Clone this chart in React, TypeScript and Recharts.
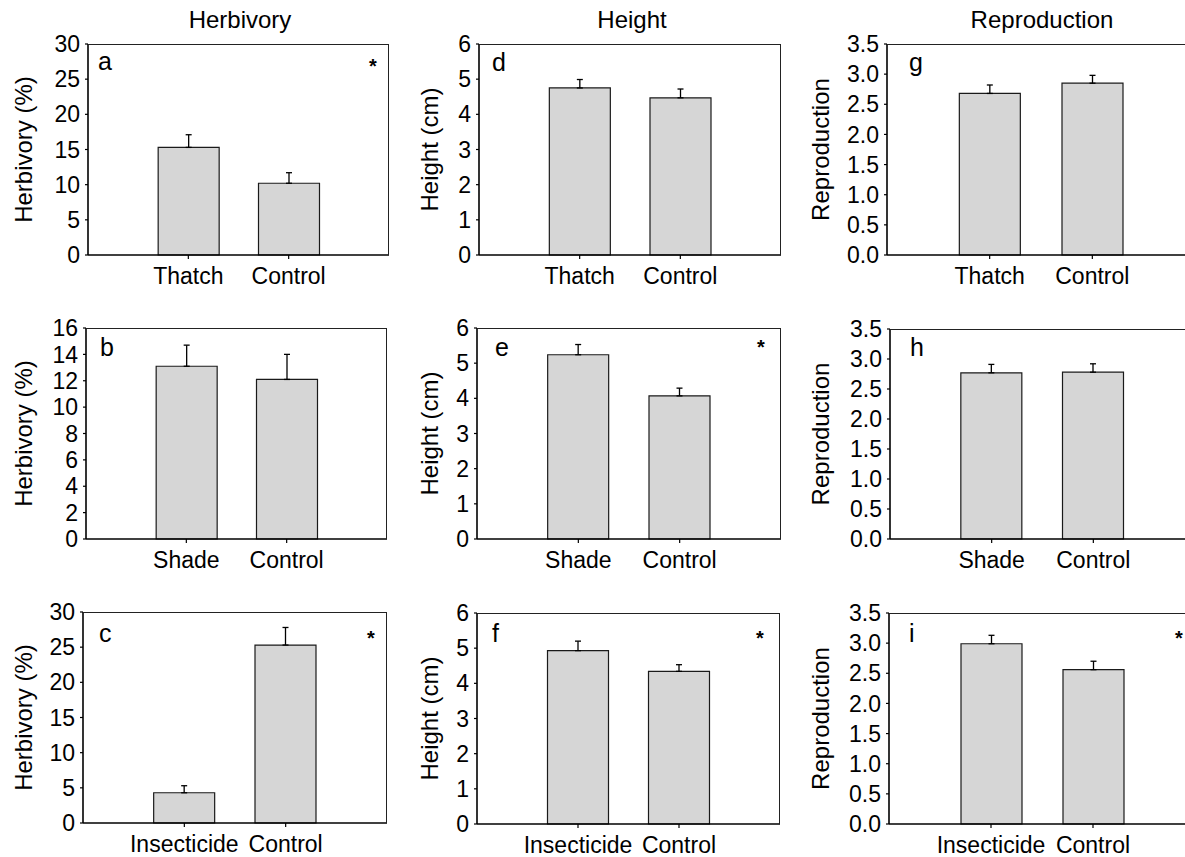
import { Bar, BarChart, ErrorBar, XAxis, YAxis } from "recharts";

// treatment groups
const thatchGroups = ["Thatch", "Control"];
const shadeGroups = ["Shade", "Control"];
const insectGroups = ["Insecticide", "Control"];

// means and standard errors
const herbThatch = [15.3, 10.2];
const herbThatchSe = [1.8, 1.5];
const herbShade = [13.1, 12.1];
const herbShadeSe = [1.6, 1.9];
const herbInsect = [4.3, 25.3];
const herbInsectSe = [1.0, 2.5];

const heightThatch = [4.75, 4.47];
const heightThatchSe = [0.24, 0.25];
const heightShade = [5.24, 4.07];
const heightShadeSe = [0.29, 0.22];
const heightInsect = [4.93, 4.34];
const heightInsectSe = [0.27, 0.19];

const reproThatch = [2.68, 2.85];
const reproThatchSe = [0.14, 0.13];
const reproShade = [2.77, 2.78];
const reproShadeSe = [0.14, 0.14];
const reproInsect = [2.99, 2.56];
const reproInsectSe = [0.14, 0.14];

// y tick labels
const herbTicks = [0, 5, 10, 15, 20, 25, 30];
const herbShadeTicks = [0, 2, 4, 6, 8, 10, 12, 14, 16];
const heightTicks = [0, 1, 2, 3, 4, 5, 6];
const reproTicks = [0, 0.5, 1, 1.5, 2, 2.5, 3, 3.5];

const titles = [
  { text: "Herbivory", x: 240 },
  { text: "Height", x: 632 },
  { text: "Reproduction", x: 1042 },
];

const FONT = '"Liberation Sans", Arial, Helvetica, sans-serif';

type PanelProps = {
  letter: string;
  groups: string[];
  values: number[];
  errors: number[];
  ticks: number[];
  decimals: number;
  yLabel: string;
  col: number; // left edge of the column on the page
  box: { l: number; r: number; t: number; b: number };
  labelX: number;
  letterX: number;
  letterBase: number;
  star?: { x: number; y: number };
};

const Panel = ({ letter, groups, values, errors, ticks, decimals, yLabel, col, box, labelX, letterX, letterBase, star }: PanelProps) => {
  const data = groups.map((g, i) => ({ group: g, value: values[i], err: [0, errors[i]] }));
  const plotW = box.r - box.l;
  const pad = plotW / 6;
  const top = box.t - 20;
  const yMax = ticks[ticks.length - 1];
  return (
    <div style={{ position: "absolute", left: col, top }}>
      <BarChart
        width={box.r - col + 10}
        height={box.b - box.t + 65}
        data={data}
        margin={{ top: 20, right: 10, bottom: 0, left: 0 }}
      >
        <XAxis
          dataKey="group"
          height={45}
          interval={0}
          padding={{ left: pad, right: pad }}
          tickSize={4}
          tickMargin={9}
          axisLine={{ stroke: "#000", strokeWidth: 1.6 }}
          tickLine={{ stroke: "#000", strokeWidth: 1.2 }}
          tick={{ fill: "#000", fontSize: 23 }}
        />
        <YAxis
          width={box.l - col}
          type="number"
          domain={[0, yMax]}
          ticks={ticks}
          interval={0}
          tickSize={3}
          tickMargin={5}
          tickFormatter={(v: number) => v.toFixed(decimals)}
          axisLine={{ stroke: "#000", strokeWidth: 1.6 }}
          tickLine={{ stroke: "#000", strokeWidth: 1.2 }}
          tick={{ fill: "#000", fontSize: 23 }}
          label={{
            value: yLabel,
            angle: -90,
            position: "insideLeft",
            offset: labelX - col,
            style: { textAnchor: "middle", fill: "#000", fontSize: 24 },
          }}
        />
        <Bar dataKey="value" fill="#d6d6d6" stroke="#1a1a1a" strokeWidth={1.2} barSize={61} isAnimationActive={false}>
          <ErrorBar dataKey="err" direction="y" width={3} stroke="#000" strokeWidth={1.3} isAnimationActive={false} />
        </Bar>
      </BarChart>
      {/* top and right edges of the plot frame */}
      <div
        style={{
          position: "absolute",
          left: box.l - col,
          top: 20,
          width: plotW,
          height: box.b - box.t,
          borderTop: "1.3px solid #222",
          borderRight: "1.3px solid #222",
          boxSizing: "border-box",
          pointerEvents: "none",
        }}
      />
      <span
        style={{
          position: "absolute",
          left: letterX - col,
          top: letterBase - 21.2 - top,
          fontSize: 25,
          lineHeight: "25px",
        }}
      >
        {letter}
      </span>
      {star && (
        <span
          style={{
            position: "absolute",
            left: star.x - col - 1,
            top: star.y - 2.6 - top,
            fontSize: 20,
            lineHeight: "20px",
            fontWeight: "bold",
          }}
        >
          *
        </span>
      )}
    </div>
  );
};

const App = () => {
  return (
    <div
      style={{
        position: "absolute",
        left: 0,
        top: 0,
        width: 1185,
        height: 857,
        overflow: "hidden",
        background: "#fff",
        fontFamily: FONT,
        color: "#000",
      }}
    >
      {titles.map((t) => (
        <div
          key={t.text}
          style={{ position: "absolute", left: t.x - 100, width: 200, top: 8, textAlign: "center", fontSize: 24, lineHeight: "24px" }}
        >
          {t.text}
        </div>
      ))}

      <Panel letter="a" groups={thatchGroups} values={herbThatch} errors={herbThatchSe} ticks={herbTicks} decimals={0}
        yLabel="Herbivory (%)" col={0} box={{ l: 88, r: 389, t: 44, b: 255 }} labelX={23} letterX={98} letterBase={70}
        star={{ x: 370, y: 59 }} />
      <Panel letter="b" groups={shadeGroups} values={herbShade} errors={herbShadeSe} ticks={herbShadeTicks} decimals={0}
        yLabel="Herbivory (%)" col={0} box={{ l: 86, r: 387, t: 328, b: 539 }} labelX={23} letterX={100} letterBase={356} />
      <Panel letter="c" groups={insectGroups} values={herbInsect} errors={herbInsectSe} ticks={herbTicks} decimals={0}
        yLabel="Herbivory (%)" col={0} box={{ l: 83, r: 387, t: 612, b: 823 }} labelX={23} letterX={99} letterBase={642}
        star={{ x: 368, y: 631 }} />

      <Panel letter="d" groups={thatchGroups} values={heightThatch} errors={heightThatchSe} ticks={heightTicks} decimals={0}
        yLabel="Height (cm)" col={400} box={{ l: 479, r: 781, t: 44, b: 255 }} labelX={429} letterX={492} letterBase={71} />
      <Panel letter="e" groups={shadeGroups} values={heightShade} errors={heightShadeSe} ticks={heightTicks} decimals={0}
        yLabel="Height (cm)" col={400} box={{ l: 477, r: 781, t: 328, b: 539 }} labelX={429} letterX={495} letterBase={356}
        star={{ x: 758, y: 340 }} />
      <Panel letter="f" groups={insectGroups} values={heightInsect} errors={heightInsectSe} ticks={heightTicks} decimals={0}
        yLabel="Height (cm)" col={400} box={{ l: 477, r: 780, t: 613, b: 824 }} labelX={429} letterX={492} letterBase={642}
        star={{ x: 757, y: 631 }} />

      <Panel letter="g" groups={thatchGroups} values={reproThatch} errors={reproThatchSe} ticks={reproTicks} decimals={1}
        yLabel="Reproduction" col={800} box={{ l: 887, r: 1195, t: 44, b: 255 }} labelX={820} letterX={909} letterBase={71} />
      <Panel letter="h" groups={shadeGroups} values={reproShade} errors={reproShadeSe} ticks={reproTicks} decimals={1}
        yLabel="Reproduction" col={800} box={{ l: 890, r: 1195, t: 329, b: 539 }} labelX={820} letterX={910} letterBase={356} />
      <Panel letter="i" groups={insectGroups} values={reproInsect} errors={reproInsectSe} ticks={reproTicks} decimals={1}
        yLabel="Reproduction" col={800} box={{ l: 889, r: 1195, t: 613, b: 824 }} labelX={820} letterX={909} letterBase={642}
        star={{ x: 1176, y: 631 }} />
    </div>
  );
};

export default App;
